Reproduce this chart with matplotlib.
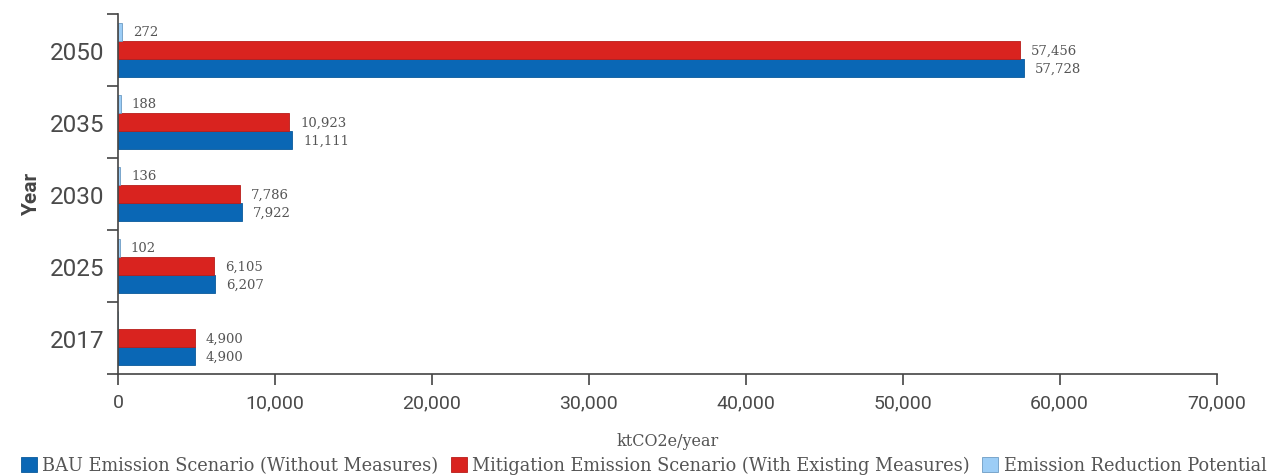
import matplotlib
matplotlib.use('Agg')
import matplotlib.pyplot as plt
import numpy as np

years = ["2017", "2025", "2030", "2035", "2050"]
bau = [4900, 6207, 7922, 11111, 57728]
mitigation = [4900, 6105, 7786, 10923, 57456]
reduction = [0, 102, 136, 188, 272]

series_names = ["BAU Emission Scenario (Without Measures)",
                "Mitigation Emission Scenario (With Existing Measures)",
                "Emission Reduction Potential"]
xticks = [0, 10000, 20000, 30000, 40000, 50000, 60000, 70000]

BLUE = "#0a67b5"
RED = "#d9231f"
LIGHT = "#9ccdf6"
TEXT = "#555555"
LABEL_FONT = "DejaVu Serif"
TICK_FONT = "Roboto"

fig = plt.figure(figsize=(12.82, 4.77), dpi=100)
ax = fig.add_axes([0.092, 0.214, 0.857, 0.755])

y = np.arange(len(years))
h = 0.25

b1 = ax.barh(y - h, bau, height=h, color=BLUE, edgecolor="#0a5a9c", linewidth=0.6,
             label=series_names[0])
b2 = ax.barh(y, mitigation, height=h, color=RED, edgecolor="#b81d1a", linewidth=0.6,
             label=series_names[1])
b3 = ax.barh(y + h, reduction, height=h, color=LIGHT, edgecolor="#6d9cc4", linewidth=0.6,
             label=series_names[2])

# value labels beside the bars (no label for a zero bar)
for bars, vals in [(b1, bau), (b2, mitigation), (b3, reduction)]:
    for bar, v in zip(bars, vals):
        if v == 0:
            continue
        ax.text(v + 700, bar.get_y() + bar.get_height() / 2, f"{v:,}",
                ha="left", va="center", fontsize=9.5, color=TEXT, family=LABEL_FONT)

ax.set_xlim(0, 70000)
ax.set_ylim(-0.5, len(years) - 0.5)
ax.set_xticks(xticks)
ax.set_xticklabels([f"{t:,}" for t in xticks], fontsize=14, color="#4a4a4a", family=TICK_FONT)

# year labels at band centres, tick marks at the band boundaries
ax.set_yticks(np.arange(-0.5, len(years)), minor=False)
ax.set_yticklabels([])
ax.set_yticks(y, minor=True)
ax.set_yticklabels(years, minor=True, fontsize=17.5, color="#4a4a4a", family=TICK_FONT)
ax.tick_params(axis="y", which="minor", length=0, pad=10)
ax.tick_params(axis="y", which="major", length=8, width=1.2, color="#444444")
ax.tick_params(axis="x", length=8, width=1.2, color="#444444", pad=6)

for s in ["top", "right"]:
    ax.spines[s].set_visible(False)
for s in ["left", "bottom"]:
    ax.spines[s].set_color("#444444")
    ax.spines[s].set_linewidth(1.2)

ax.set_ylabel("Year", fontsize=15, color="#444444", family=TICK_FONT,
              fontweight="bold", labelpad=6)
ax.set_xlabel("ktCO2e/year", fontsize=11.5, color=TEXT, family=LABEL_FONT, labelpad=15)

fig.legend(handles=[b1, b2, b3], loc="lower center", bbox_to_anchor=(0.502, -0.03),
           ncol=3, frameon=False, handlelength=0.9, handleheight=0.9,
           handletextpad=0.3, columnspacing=0.7,
           prop={"family": LABEL_FONT, "size": 12.8}, labelcolor=TEXT)

fig.savefig("out.png", dpi=100)
